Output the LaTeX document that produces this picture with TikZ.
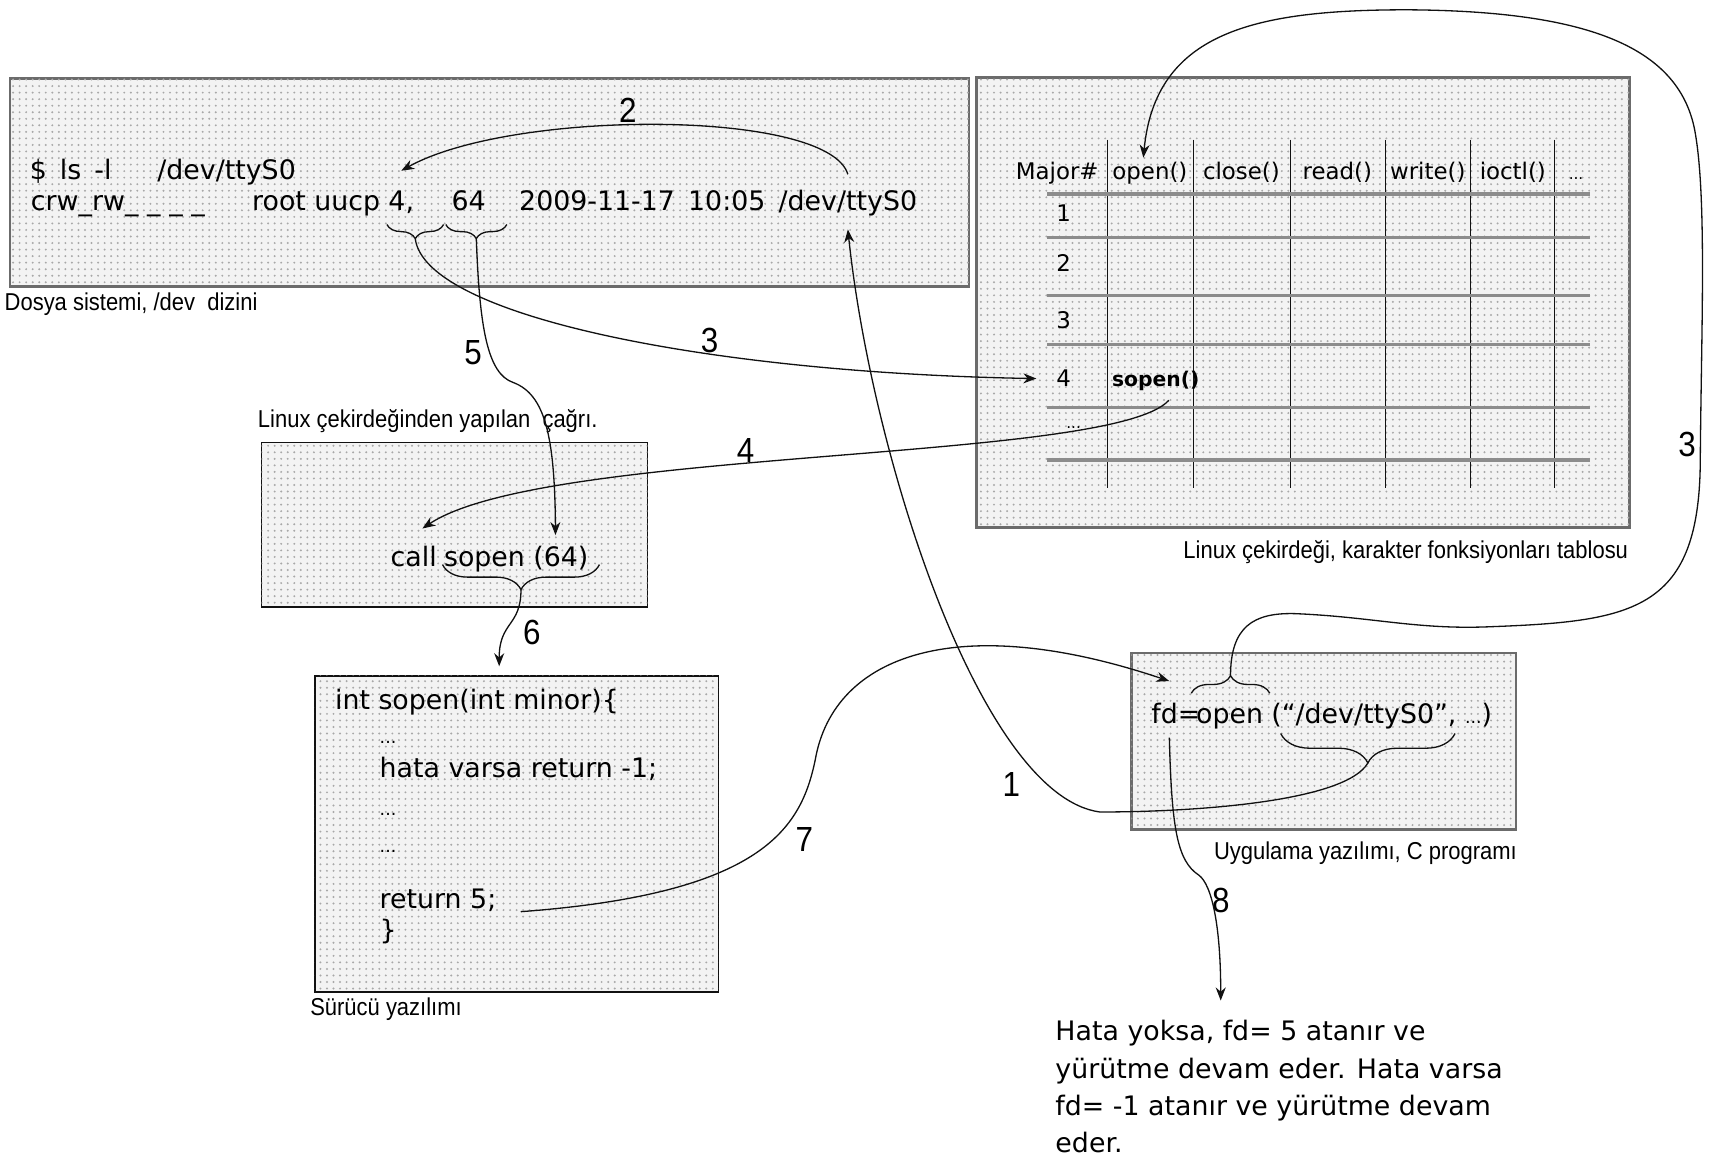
\documentclass[tikz,border=0pt]{standalone}
\usepackage{fontspec}
\setmainfont{DejaVu Sans}
\newfontfamily\capfont[FakeStretch=0.9]{Liberation Sans}
\usetikzlibrary{arrows.meta,positioning,calc,decorations.pathreplacing,patterns}
\definecolor{ink}{HTML}{111111}
\definecolor{frame}{HTML}{6B6B6B}
\definecolor{dotgray}{HTML}{F3F3F3}
\definecolor{dotink}{HTML}{A8A8A8}
\definecolor{rule}{HTML}{8C8C8C}
\tikzset{panel/.style={draw=frame,line width=1.1pt,fill=dotgray,inner sep=0pt,postaction={pattern=dots,pattern color=dotink}},thinpanel/.style={panel,draw=ink,line width=0.7pt},code/.style={font=\fontsize{12.3}{14}\selectfont,inner sep=0pt,anchor=base west},cell/.style={font=\fontsize{10.5}{12}\selectfont,inner sep=0pt,anchor=base},boxcap/.style={font=\capfont\fontsize{11.2}{13}\selectfont,inner sep=0pt},stepno/.style={font=\capfont\fontsize{16}{18}\selectfont,inner sep=0pt},flow/.style={-{Stealth[length=6pt,width=4.6pt]},line width=0.6pt,draw=ink},curlyup/.style={decorate,decoration={brace,amplitude=#1},line width=0.6pt,draw=ink},curlydown/.style={decorate,decoration={brace,mirror,amplitude=#1},line width=0.6pt,draw=ink}}

\begin{document}
\begin{tikzpicture}[x=0.5pt,y=-0.5pt]
\useasboundingbox (0,0) rectangle (1568,1063);
% panels
\node[panel,minimum width=440pt,minimum height=95.5pt] (fsbox) at (449,167.5) {};
\node[panel,minimum width=299.5pt,minimum height=206.5pt] (tabbox) at (1195.5,277.5) {};
\node[thinpanel,minimum width=177pt,minimum height=75.5pt] (callbox) at (417,481.5) {};
\node[thinpanel,minimum width=185pt,minimum height=145pt] (drvbox) at (474,765) {};
\node[panel,minimum width=176.5pt,minimum height=81pt] (appbox) at (1214.5,680) {};
\node[boxcap,below right=2pt and -2pt of fsbox.south west] (fscap) {Dosya sistemi, /dev\ \ dizini};
\node[boxcap,below left=5pt and 1pt of tabbox.south east] (tabcap) {Linux çekirdeği, karakter fonksiyonları tablosu};
\node[boxcap,above right=4pt and -1.5pt of callbox.north west] (callcap) {Linux çekirdeğinden yapılan\ \ çağrı.};
\node[boxcap,below left=5pt and 0pt of appbox.south east] (appcap) {Uygulama yazılımı, C programı};
\node[boxcap,below right=2pt and -2pt of drvbox.south west] (drvcap) {Sürücü yazılımı};
% ls -l listing
\node[code] (lscmd) at (27,165) {\$\hspace{6pt}ls\hspace{6pt}-l};
\node[code] (lsdev) at (144,165) {/dev/ttyS0};
\node[code] (perm) at (28,193) {crw\_rw\_\hspace{4pt}\_\hspace{4pt}\_\hspace{4pt}\_};
\node[code] (owner) at (231,193) {root uucp};
\node[code] (major) at (356,193) {4,};
\node[code] (minor) at (414,193) {64};
\node[code] (date) at (476,193) {2009-11-17};
\node[code] (clock) at (631,193) {10:05};
\node[code] (devname) at (714,193) {/dev/ttyS0};
\draw[curlydown=6.5pt] (355,206) -- (407,206);
\draw[curlydown=6.5pt] (409,206) -- (465,206);
\coordinate (majtip) at (381,219);
\coordinate (mintip) at (437,219);
% character device table
\foreach \xx in {1016,1095,1184,1271,1349,1426}
  \draw[ink,line width=0.6pt] (\xx,128) -- (\xx,448);
\foreach \yy in {178,218,271,316,374,422}
  \draw[rule,line width=1.5pt] (961,\yy) -- (1459,\yy);
\foreach \xx/\txt/\nm in {970/Major\#/hmaj,1055/open()/hopen,1139/close()/hclose,1227/read()/hread,1310/write()/hwrite,1388/ioctl()/hioctl}
  \node[cell] (\nm) at (\xx,165) {\txt};
\node[cell,font=\fontsize{7}{8}\selectfont] (hmore) at (1446,165) {...};
\foreach \yy/\txt/\nm in {203/1/r1,249/2/r2,301/3/r3,355/4/r4}
  \node[cell] (\nm) at (976,\yy) {\txt};
\node[cell,font=\fontsize{7}{8}\selectfont] (r5) at (985,393) {...};
\node[cell,font=\fontsize{9.3}{11}\selectfont\bfseries,anchor=base west] (tsopen) at (1020,355) {sopen()};
% kernel call
\node[code] (callkw) at (358,520) {call};
\node[code] (callfn) at (407,520) {sopen (64)};
\draw[curlydown=11.5pt] (406,518) -- (550,518);
\coordinate (calltip) at (478,541);
% driver
\node[code] (drv1) at (307,651) {int sopen(int minor)\{};
\node[code,font=\fontsize{8}{10}\selectfont] (drv2) at (348,682) {...};
\node[code] (drv3) at (348,713) {hata varsa return -1;};
\node[code,font=\fontsize{8}{10}\selectfont] (drv4) at (348,748) {...};
\node[code,font=\fontsize{8}{10}\selectfont] (drv5) at (348,782) {...};
\node[code] (drv6) at (348,834) {return 5;};
\node[code] (drv7) at (348,862) {\}};
% application
\node[code] (fdvar) at (1056,664) {fd=};
\node[code] (opencall) at (1097,664) {open};
\node[code] (openargs) at (1166,664) {(“/dev/ttyS0”, {\fontsize{8}{10}\selectfont...})};
\draw[curlyup=8pt] (1093,636) -- (1165,636);
\draw[curlydown=13.5pt] (1175,673) -- (1335,673);
\coordinate (opentip) at (1129,620);
\coordinate (argtip) at (1255,700);
\node[code,anchor=north west,align=left,font=\fontsize{12.3}{17}\selectfont] (result) at (968,936) {Hata yoksa, fd= 5 atanır ve\\yürütme devam eder. Hata varsa\\fd= -1 atanır ve yürütme devam\\eder.};
% step numbers
\node[stepno] (n1) at (928,720) {1};
\node[stepno] (n2) at (576,101) {2};
\node[stepno] (n3a) at (651,312) {3};
\node[stepno] (n4) at (684,413) {4};
\node[stepno] (n5) at (434,324) {5};
\node[stepno] (n6) at (488,580) {6};
\node[stepno] (n7) at (738,770) {7};
\node[stepno] (n8) at (1120,826) {8};
\node[stepno] (n3b) at (1548,408) {3};
% connectors
\draw[flow] (argtip) .. controls (1235,735) and (1100,745) .. (1009,745) .. controls (900,730) and (800,420) .. ([yshift=-6pt]devname.south);
\draw[flow] ([yshift=7pt]devname.north) .. controls (760,100) and (470,100) .. ([yshift=9pt]major.north);
\draw[flow] (majtip) .. controls (390,290) and (650,342) .. ([xshift=-9pt]r4.west);
\draw[flow] ([xshift=6pt,yshift=-4pt]tsopen.south) .. controls (1020,425) and (500,410) .. ([xshift=4pt,yshift=8pt]callkw.north);
\draw[flow] (mintip) .. controls (440,300) and (447,343) .. (471,351) .. controls (500,362) and (509,400) .. ([xshift=18pt,yshift=5pt]callfn.north);
\draw[flow] (calltip) .. controls (478,575) and (458,570) .. ([xshift=-8pt,yshift=4pt]drvbox.north);
\draw[flow] ([xshift=11pt,yshift=-5pt]drv6.east) .. controls (700,820) and (735,760) .. (748,697) .. controls (765,600) and (880,560) .. ([xshift=-3pt,yshift=10pt]fdvar.north);
\draw[flow] ([xshift=-3pt,yshift=-6pt]fdvar.south) .. controls (1075,760) and (1080,790) .. (1100,803) .. controls (1112,812) and (1120,850) .. ([xshift=76pt,yshift=9pt]result.north west);
\draw[flow] (opentip) .. controls (1129,575) and (1150,562) .. (1188,563) .. controls (1260,566) and (1300,578) .. (1368,575) .. controls (1500,570) and (1560,560) .. (1560,420) .. controls (1561,300) and (1566,180) .. (1555,120) .. controls (1540,40) and (1450,10) .. (1291,9) .. controls (1150,9) and (1060,30) .. ([xshift=-3pt,yshift=2pt]hopen.north);
\end{tikzpicture}
\end{document}
